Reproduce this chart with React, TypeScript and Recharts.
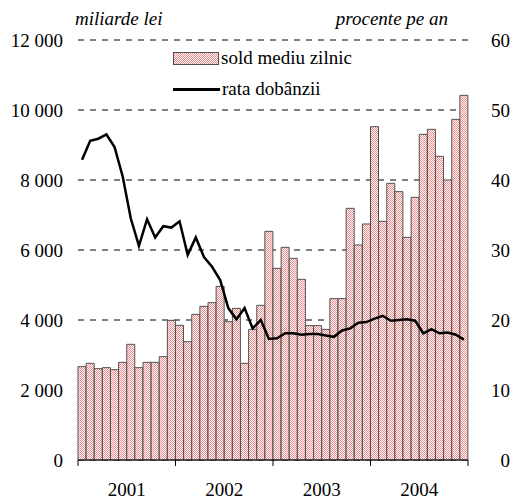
import { ComposedChart, Bar, Line, XAxis, YAxis, CartesianGrid } from "recharts";

const years = ["2001", "2002", "2003", "2004"];
const monthsPerYear = 12;

// sold mediu zilnic, miliarde lei
const soldMediu = [
  2667, 2762, 2610, 2638, 2581, 2790, 3305, 2638, 2790, 2790, 2952, 3990,
  3848, 3381, 4162, 4390, 4495, 4962, 3952, 4333, 2762, 3733, 4419, 6533,
  5476, 6076, 5762, 5162, 3838, 3838, 3733, 4610, 4610, 7190, 6143, 6743,
  9524, 6819, 7905, 7667, 6362, 7505, 9305, 9448, 8676, 8000, 9733, 10419,
];

// rata dobanzii, procente pe an
const rataDobanzii = [
  42.9, 45.6, 45.9, 46.5, 44.7, 40.5, 34.5, 30.6, 34.4, 31.8, 33.4, 33.2,
  34.1, 29.3, 31.8, 29.0, 27.6, 25.7, 21.7, 20.1, 21.7, 18.8, 20.0, 17.3,
  17.4, 18.1, 18.1, 17.9, 18.0, 18.0, 17.8, 17.6, 18.5, 18.8, 19.6, 19.7,
  20.2, 20.6, 19.9, 20.0, 20.1, 19.9, 18.1, 18.7, 18.1, 18.2, 17.9, 17.2,
];

const leftTicks = [0, 2000, 4000, 6000, 8000, 10000, 12000];
const rightTicks = [0, 10, 20, 30, 40, 50, 60];

const months = years.flatMap((y) =>
  Array.from({ length: monthsPerYear }, (_, i) => `${y}-${String(i + 1).padStart(2, "0")}`)
);
const data = months.map((m, i) => ({ month: m, sold: soldMediu[i], rata: rataDobanzii[i] }));

const W = 512;
const H = 500;
const LEFT_W = 78;
const RIGHT_W = 44;
const font = "'Liberation Serif', Tinos, serif";
const bw = (W - LEFT_W - RIGHT_W) / months.length;

const fmtThousands = (v: number) => String(v).replace(/\B(?=(\d{3})+(?!\d))/g, " ");

function Dots({ id }: { id: string }) {
  return (
    <pattern id={id} width="2" height="2" patternUnits="userSpaceOnUse">
      <rect width="2" height="2" fill="#ffffff" />
      <rect x="0" y="0" width="1" height="1" fill="#f08a8a" />
      <rect x="1" y="1" width="1" height="1" fill="#f08a8a" />
    </pattern>
  );
}

function YearTick(props: any) {
  const { x, y, payload, index } = props;
  const i = payload?.index ?? index;
  return (
    <g>
      {i % monthsPerYear === 0 && (
        <line x1={x - bw / 2} x2={x - bw / 2} y1={y} y2={y + 6} stroke="#000" />
      )}
      {i === months.length - 1 && (
        <line x1={x + bw / 2} x2={x + bw / 2} y1={y} y2={y + 6} stroke="#000" />
      )}
      {i % monthsPerYear === 5 && (
        <text x={x + bw / 2} y={y + 36} textAnchor="middle" fontSize={19} fontFamily={font} fill="#000">
          {String(payload.value).slice(0, 4)}
        </text>
      )}
    </g>
  );
}

export default function App() {
  return (
    <div style={{ position: "absolute", left: 0, top: 0, width: W, height: H, fontFamily: font, background: "#fff" }}>
      <ComposedChart
        width={W}
        height={H}
        data={data}
        margin={{ top: 40, right: 0, bottom: 0, left: 0 }}
        barCategoryGap={0}
        barGap={0}
        style={{ fontFamily: font }}
      >
        <defs>
          <Dots id="pinkDots" />
        </defs>
        <CartesianGrid yAxisId="left" vertical={false} stroke="#000" strokeDasharray="6 6" />
        <XAxis
          dataKey="month"
          interval={0}
          height={40}
          tickLine={false}
          tickSize={0}
          tickMargin={0}
          axisLine={{ stroke: "#000" }}
          tick={<YearTick />}
        />
        <YAxis
          yAxisId="left"
          width={LEFT_W}
          domain={[0, 12000]}
          ticks={leftTicks}
          axisLine={false}
          tickLine={false}
          tickSize={0}
          tickMargin={15}
          tickFormatter={fmtThousands}
          tick={{ fill: "#000", fontSize: 19, fontFamily: font }}
        />
        <YAxis
          yAxisId="right"
          orientation="right"
          width={RIGHT_W}
          domain={[0, 60]}
          ticks={rightTicks}
          axisLine={false}
          tickLine={false}
          tickSize={0}
          tickMargin={42}
          tick={{ fill: "#000", fontSize: 19, fontFamily: font, textAnchor: "end" }}
        />
        <Bar
          yAxisId="left"
          dataKey="sold"
          fill="url(#pinkDots)"
          stroke="#505050"
          strokeWidth={1}
          isAnimationActive={false}
        />
        <Line
          yAxisId="right"
          dataKey="rata"
          type="linear"
          stroke="#000"
          strokeWidth={2.5}
          dot={false}
          activeDot={false}
          isAnimationActive={false}
        />
      </ComposedChart>
      <div style={{ position: "absolute", left: 75, top: 8, fontSize: 19, fontStyle: "italic", lineHeight: "22px" }}>
        miliarde lei
      </div>
      <div style={{ position: "absolute", right: 64, top: 8, fontSize: 19, fontStyle: "italic", lineHeight: "22px" }}>
        procente pe an
      </div>
      <div style={{ position: "absolute", left: 173, top: 47, fontSize: 19, lineHeight: "22px" }}>
        <div style={{ display: "flex", alignItems: "center", height: 22 }}>
          <svg width={47} height={13} style={{ marginRight: 1 }}>
            <defs>
              <Dots id="pinkDotsLegend" />
            </defs>
            <rect x={0.5} y={0.5} width={45} height={12} fill="url(#pinkDotsLegend)" stroke="#505050" />
          </svg>
          sold mediu zilnic
        </div>
        <div style={{ display: "flex", alignItems: "center", height: 22, marginTop: 9 }}>
          <span style={{ display: "inline-block", width: 47, height: 3, background: "#000", marginRight: 2 }} />
          rata dobânzii
        </div>
      </div>
    </div>
  );
}
